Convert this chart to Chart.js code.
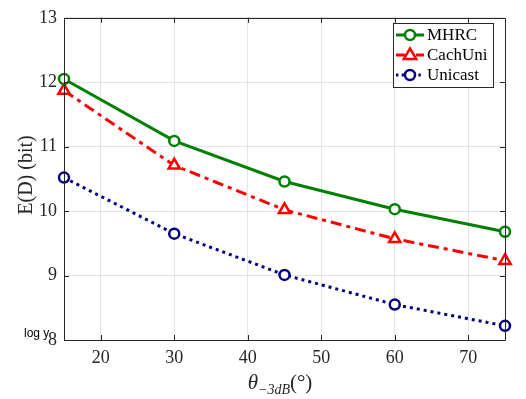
<!DOCTYPE html>
<html>
<head>
<meta charset="utf-8">
<script src="https://cdn.jsdelivr.net/npm/chart.js@4"></script>
<style>
  body { margin: 0; background: #fff; }
  #wrap { position: relative; width: 526px; height: 399px; font-family: 'Liberation Serif', 'Times New Roman', serif; color: #262626; }
  #ylab { position: absolute; left: 25px; top: 175px; transform: translate(-50%, -50%) rotate(-90deg); font-size: 20px; white-space: nowrap; }
  #xlab { position: absolute; left: 280px; top: 384px; transform: translate(-50%, -50%); font-size: 21px; white-space: nowrap; }
  #xlab sub { font-size: 14px; }
  #logy { position: absolute; left: 24px; top: 326px; font-family: 'Liberation Sans', Arial, sans-serif; font-size: 12px; color: #000; }
</style>
</head>
<body>
<div id="wrap">
  <canvas id="myChart" width="526" height="399"></canvas>
  <div id="ylab">E(D) (bit)</div>
  <div id="xlab"><i>θ</i><sub><i>−3dB</i></sub>(°)</div>
  <div id="logy">log y</div>
</div>
<script>
const xValues = [15, 30, 45, 60, 75];
const mhrc = [12.05, 11.09, 10.46, 10.03, 9.68];
const cachUni = [11.87, 10.71, 10.02, 9.57, 9.23];
const unicast = [10.52, 9.65, 9.01, 8.55, 8.22];
const xTicks = [20, 30, 40, 50, 60, 70];
const yTicks = [8, 9, 10, 11, 12, 13];
const names = ['MHRC', 'CachUni', 'Unicast'];

const serif = "'Liberation Serif', 'Times New Roman', serif";
const axisColor = '#262626';

function pairs(ys) {
  return xValues.map((x, i) => ({ x: x, y: ys[i] }));
}

const series = [
  { label: names[0], data: pairs(mhrc), color: '#008000', dash: [], point: 'circle', r: 5 },
  { label: names[1], data: pairs(cachUni), color: '#ff0000', dash: [11, 5, 4, 5], point: 'triangle', r: 6.5 },
  { label: names[2], data: pairs(unicast), color: '#000080', dash: [3, 4], point: 'circle', r: 5 },
];

// box around the axes, inward ticks, legend
const boxPlugin = {
  id: 'boxPlugin',
  afterDatasetsDraw(chart) {
    const c = chart.ctx;
    const a = chart.chartArea;
    const xs = chart.scales.x, ys = chart.scales.y;
    c.save();
    c.strokeStyle = axisColor;
    c.lineWidth = 1;
    c.beginPath();
    c.rect(Math.round(a.left) + 0.5, Math.round(a.top) + 0.5, Math.round(a.right - a.left), Math.round(a.bottom - a.top));
    c.stroke();
    c.beginPath();
    xTicks.forEach(v => {
      const px = Math.round(xs.getPixelForValue(v)) + 0.5;
      c.moveTo(px, a.bottom); c.lineTo(px, a.bottom - 5);
      c.moveTo(px, a.top); c.lineTo(px, a.top + 5);
    });
    yTicks.forEach(v => {
      const py = Math.round(ys.getPixelForValue(v)) + 0.5;
      c.moveTo(a.left, py); c.lineTo(a.left + 5, py);
      c.moveTo(a.right, py); c.lineTo(a.right - 5, py);
    });
    c.stroke();

    // legend
    const lx = 393, ly = 23, lw = 100, lh = 64;
    c.fillStyle = '#fff';
    c.fillRect(lx, ly, lw, lh);
    c.strokeStyle = '#262626';
    c.strokeRect(lx + 0.5, ly + 0.5, lw, lh);
    series.forEach((s, i) => {
      const y = ly + 12 + i * 20;
      c.strokeStyle = s.color;
      c.lineWidth = 3;
      c.setLineDash(s.dash.length ? s.dash.map(d => d * 0.8) : []);
      c.beginPath();
      c.moveTo(lx + 3, y); c.lineTo(lx + 31, y);
      c.stroke();
      c.setLineDash([]);
      c.lineWidth = 2.5;
      c.fillStyle = '#fff';
      c.strokeStyle = s.color;
      c.beginPath();
      if (s.point === 'circle') {
        c.arc(lx + 17, y, s.r, 0, Math.PI * 2);
      } else {
        const r = s.r;
        c.moveTo(lx + 17, y - r);
        c.lineTo(lx + 17 + r * 0.95, y + r * 0.6);
        c.lineTo(lx + 17 - r * 0.95, y + r * 0.6);
        c.closePath();
      }
      c.fill();
      c.stroke();
      c.fillStyle = '#000';
      c.font = '17px ' + serif;
      c.textBaseline = 'middle';
      c.fillText(s.label, lx + 34, y + 1);
    });
    c.restore();
  }
};

const ctx = document.getElementById('myChart');
new Chart(ctx, {
  type: 'line',
  data: {
    datasets: series.map(s => ({
      label: s.label,
      data: s.data,
      borderColor: s.color,
      backgroundColor: '#fff',
      borderWidth: 3,
      borderDash: s.dash,
      pointStyle: s.point,
      pointRadius: s.r,
      pointBorderWidth: 2.5,
      pointBackgroundColor: '#fff',
      pointBorderColor: s.color,
      tension: 0,
      clip: false,
    })),
  },
  options: {
    responsive: false,
    animation: false,
    layout: { padding: { top: 12, right: 21, left: 0, bottom: 0 } },
    plugins: {
      legend: { display: false },
      tooltip: { enabled: false },
    },
    scales: {
      x: {
        type: 'linear',
        min: 15,
        max: 75,
        afterBuildTicks: (s) => { s.ticks = xTicks.map(v => ({ value: v })); },
        afterFit: (s) => { s.height = 59; },
        grid: { color: '#e3e3e3', drawTicks: false },
        border: { display: false },
        ticks: { font: { family: serif, size: 18 }, color: axisColor, padding: 7 },
      },
      y: {
        min: 8,
        max: 13,
        afterBuildTicks: (s) => { s.ticks = yTicks.map(v => ({ value: v })); },
        afterFit: (s) => { s.width = 64; },
        grid: { color: '#e3e3e3', drawTicks: false },
        border: { display: false },
        ticks: { font: { family: serif, size: 18 }, color: axisColor, padding: 7 },
      },
    },
  },
  plugins: [boxPlugin],
});
</script>
</body>
</html>
